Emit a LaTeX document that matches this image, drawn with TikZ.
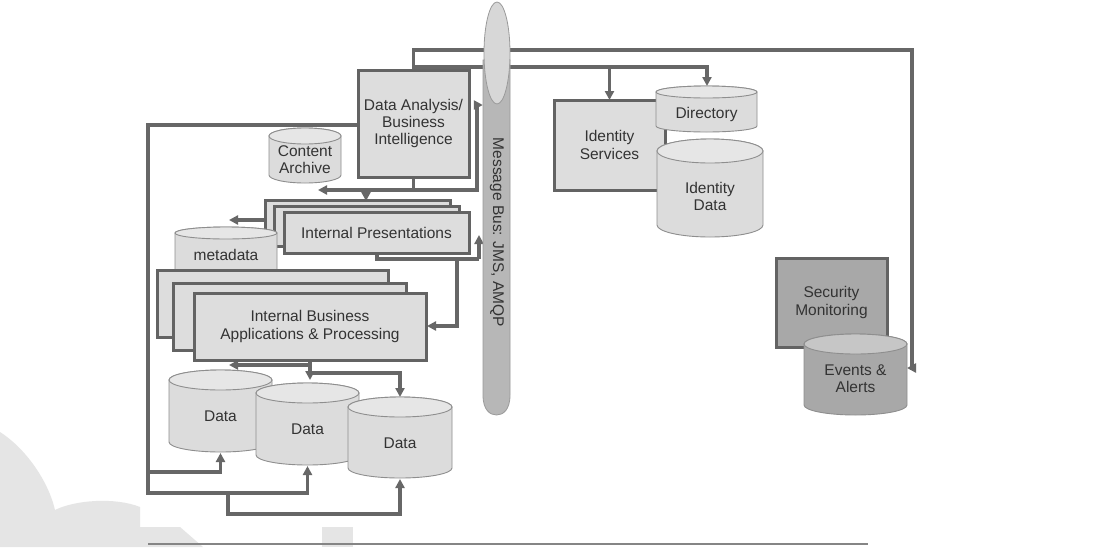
\documentclass[tikz,border=0pt]{standalone}
\usepackage{fontspec}
\setmainfont{Liberation Sans}
\usetikzlibrary{arrows.meta}
\definecolor{linec}{HTML}{676767}
\definecolor{boxline}{HTML}{636363}
\definecolor{boxfill}{HTML}{DDDDDD}
\definecolor{cylline}{HTML}{8E8E8E}
\definecolor{cylfill}{HTML}{DCDCDC}
\definecolor{cyltopfill}{HTML}{E6E6E6}
\definecolor{darkfill}{HTML}{A8A8A8}
\definecolor{darktop}{HTML}{C6C6C6}
\definecolor{busfill}{HTML}{B7B7B7}
\definecolor{busline}{HTML}{9A9A9A}
\definecolor{ellfill}{HTML}{D7D7D7}
\definecolor{txtc}{HTML}{333333}
\definecolor{wmark}{HTML}{E5E5E5}
\definecolor{rulec}{HTML}{858585}
\tikzset{
  conn/.style={draw=linec, line width=3.2pt},
  arr/.style={-{Triangle[length=9pt,width=9pt]}},
  lbl/.style={font=\fontsize{15.5}{17.3}\selectfont, text=txtc, align=center, inner sep=0pt},
  box/.style={lbl, draw=boxline, line width=3pt, fill=boxfill},
  darkbox/.style={lbl, draw=boxline, line width=3pt, fill=darkfill},
  cylbodyL/.style={draw=cylline, line width=0.9pt, fill=cylfill},
  cyltopL/.style={draw=cylline, line width=0.9pt, fill=cyltopfill},
  cylbodyD/.style={draw=cylline, line width=0.9pt, fill=darkfill},
  cyltopD/.style={draw=cylline, line width=0.9pt, fill=darktop},
}
\newcommand{\dbcyl}[9]{%
  \pgfmathsetmacro\cylcx{(#2+#4)/2}%
  \pgfmathsetmacro\cylrx{(#4-#2)/2}%
  \pgfmathsetmacro\cylyt{#3+#6}%
  \pgfmathsetmacro\cylyb{#5-#6}%
  \pgfmathsetmacro\cylcy{(#3+#5)/2}%
  \pgfmathsetmacro\cylw{#4-#2}%
  \pgfmathsetmacro\cylh{#5-#3}%
  \pgfmathsetmacro\cylly{(#3+#5)/2+#9}%
  \path[cylbody#7] (#2,\cylyt) -- (#2,\cylyb)
     arc[start angle=180,end angle=360,x radius=\cylrx pt,y radius=#6pt]
     -- (#4,\cylyt)
     arc[start angle=0,end angle=180,x radius=\cylrx pt,y radius=#6pt] -- cycle;
  \path[cyltop#7] (\cylcx,\cylyt) ellipse[x radius=\cylrx pt,y radius=#6pt];
  \node[inner sep=0pt,minimum width=\cylw pt,minimum height=\cylh pt] (#1) at (\cylcx,\cylcy) {};
  \node[lbl] (#1-label) at (\cylcx,\cylly) {#8};
}
\begin{document}
\begin{tikzpicture}[x=1pt,y=-1pt]
\useasboundingbox (0,0) rectangle (1104,547);
\fill[white] (0,0) rectangle (1104,547);
% watermark
\fill[wmark] (0,432) .. controls (25,448) and (48,480) .. (55,510)
   .. controls (75,500) and (115,497) .. (140,507) -- (140,527) -- (180,527)
   -- (203,547) -- (0,547) -- cycle;
\fill[wmark] (322,527) rectangle (353,547);
\draw[rulec, line width=1.6pt] (148,544) -- (868,544);

% ---- nodes (placement only, drawn later) ----
\node[inner sep=0pt, minimum width=27pt, minimum height=360pt] (bus) at (496.5,235) {};
\node[inner sep=0pt, minimum width=111pt, minimum height=107pt] (da) at (413.5,123.5) {};
\coordinate (daA) at (413.5,50);
\coordinate (daB) at (413.5,67);
\coordinate (daC) at (413.5,190);
\coordinate (daL) at (358,125);
\coordinate (j1) at (148,472);
\coordinate (j2) at (228,493);
\coordinate (j3) at (310,373);
\coordinate (j4) at (377,259);
\coordinate (j5) at (457,259);

% ---- connectors ----
\draw[conn,arr] (da.north) -- (daA) -| (912,368) -- (907,368);
\draw[conn,arr] (daB) -| (707,86);
\draw[conn,arr] (609.5,67) -- (609.5,100);
\draw[conn,arr] (da.south) -- (daC) -| (477,105) -- (bus.west |- 0,105);
\draw[conn,arr] (daC) -- (318,190);
\draw[conn,arr] (366,190) -- (366,201);
\draw[conn,arr] (265,220) -- (229,220);
\draw[conn] (377,253) -- (j4) -- (479,259);
\draw[conn,arr] (479,259) -- (479,235);
\draw[conn,arr] (j5) |- (427,326);
\draw[conn,arr] (310,360) |- (229,365);
\draw[conn,arr] (310,360) -- (310,380);
\draw[conn,arr] (j3) -| (400,397);
\draw[conn,arr] (daL) -| (j1) -| (220.5,453);
\draw[conn,arr] (j1) |- (307.5,493) -- (307.5,466);
\draw[conn,arr] (j2) |- (400,514) -- (400,479);

% ---- message bus ----
\path[draw=busline, line width=0.8pt, fill=busfill] (483,60) -- (483,395)
   .. controls (483,410) and (490,415) .. (496.5,415)
   .. controls (503,415) and (510,410) .. (510,395) -- (510,60) -- cycle;
\path[draw=busline, line width=0.8pt, fill=ellfill] (497,53) ellipse[x radius=13pt, y radius=51pt];
\node[lbl, rotate=-90] (bustxt) at (497,232.5) {Message Bus: JMS, AMQP};

% ---- Data analysis box ----
\node[box, minimum width=111pt, minimum height=107pt] (dabox) at (413.5,123.5) {Data Analysis/\\Business\\Intelligence};

% ---- content archive ----
\dbcyl{ca}{269}{128}{341}{183}{8}{L}{Content\\Archive}{4.5}

% ---- internal presentations ----
\node[box, minimum width=185pt, minimum height=40pt] (ip1) at (357.5,220) {};
\node[box, minimum width=185pt, minimum height=40pt] (ip2) at (366.5,226) {};
\node[box, minimum width=185pt, minimum height=41pt] (ip3) at (376.5,232.5) {Internal Presentations};

% ---- metadata ----
\dbcyl{meta}{175}{227}{277}{280}{6}{L}{metadata}{1.5}

% ---- internal business applications ----
\node[box, minimum width=231pt, minimum height=67pt] (iba1) at (272.5,303.5) {};
\node[box, minimum width=233pt, minimum height=67pt] (iba2) at (289.5,316.5) {};
\node[box, minimum width=232pt, minimum height=67pt] (iba3) at (310,326.5) {Internal Business\\Applications \& Processing};

% ---- data stores ----
\dbcyl{d1}{169}{370}{272}{452}{10}{L}{Data}{5}
\dbcyl{d2}{256}{383}{359}{465}{10}{L}{Data}{5}
\dbcyl{d3}{348}{397}{452}{478}{10}{L}{Data}{5.5}

% ---- identity ----
\node[box, minimum width=111pt, minimum height=90pt] (ids) at (609.5,145) {Identity\\Services};
\dbcyl{dir}{656}{86}{757}{132}{6}{L}{Directory}{5.5}
\dbcyl{idd}{657}{139}{763}{237}{12}{L}{Identity\\Data}{8.5}

% ---- security ----
\node[darkbox, minimum width=111pt, minimum height=89pt] (sec) at (831.5,302.5) {Security\\Monitoring};
\dbcyl{ev}{804}{334}{907}{415}{10}{D}{Events \&\\Alerts}{4.5}
\end{tikzpicture}
\end{document}
